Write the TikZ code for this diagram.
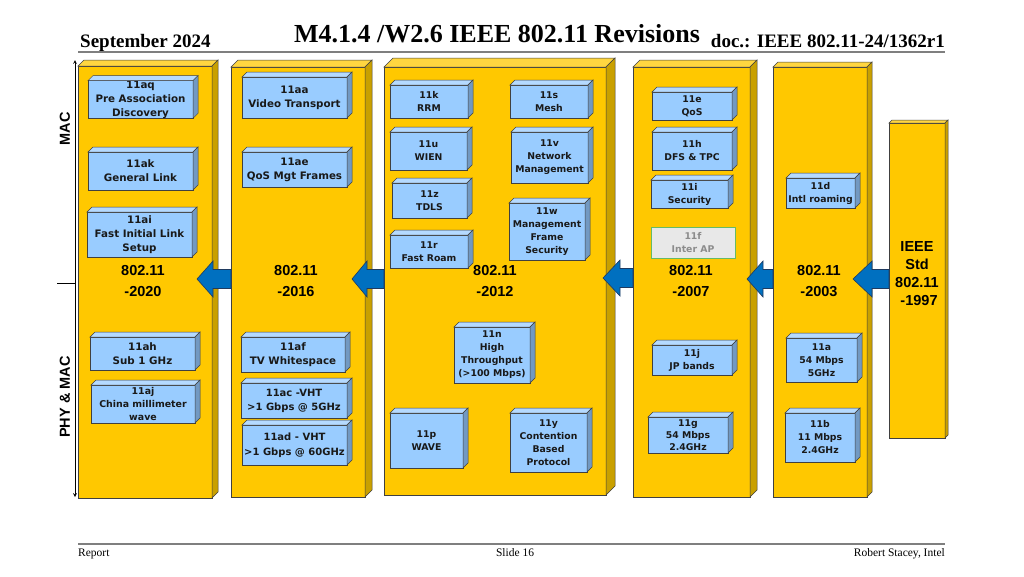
\documentclass[tikz,border=0pt]{standalone}
\usepackage{fontspec}
\setmainfont{Liberation Serif}
\newfontfamily\boxfont{DejaVu Sans}
\newfontfamily\arialfont{Liberation Sans}
\usetikzlibrary{calc}
\definecolor{gold}{HTML}{FFC800}
\definecolor{goldside}{HTML}{C9A000}
\definecolor{goldtop}{HTML}{FFD640}
\definecolor{lblue}{HTML}{99CCFF}
\definecolor{lblueside}{HTML}{7299C2}
\definecolor{lbluetop}{HTML}{B5DAFF}
\definecolor{arrowblue}{HTML}{0070C0}
\definecolor{arrowedge}{HTML}{1F3A5F}
\definecolor{rulegray}{HTML}{7F7F7F}
\definecolor{ffill}{HTML}{E8E8E8}
\definecolor{fedge}{HTML}{66BB66}
\definecolor{ftext}{HTML}{8C8C8C}
\newcommand\bigboxfont{\boxfont\bfseries\fontsize{10.3}{14}\selectfont}
\newcommand\smallboxfont{\boxfont\bfseries\fontsize{9.3}{13}\selectfont}
\newcommand\cubefaces[4]{%
  \draw[face,fill=#3] (#1.north west) -- ++(#2,-#2) -- ($(#1.north east)+(#2,-#2)$) -- (#1.north east) -- cycle;
  \draw[face,fill=#4] (#1.north east) -- ++(#2,-#2) -- ($(#1.south east)+(#2,-#2)$) -- (#1.south east) -- cycle;}
\newcommand\rbox[7][]{%
  \node[bbox,#1,minimum width={#5-#3},minimum height={#6-#4}] (#2) at ({(#3+#5)/2},{(#4+#6)/2}) {#7};
  \cubefaces{#2}{5}{lbluetop}{lblueside}}
\newcommand\colbox[6]{%
  \node[colstyle,minimum width={#4-#2},minimum height={#5-#3}] (#1) at ({(#2+#4)/2},{(#3+#5)/2}) {};
  \cubefaces{#1}{#6}{goldtop}{goldside}}
\newcommand\blockarrow[4]{%
  \draw[barrow] let \p1=($(#1.east)+(#3,-3)$), \p2=(#2.west) in
    (\p1) -- (\x1+#4pt,\y1+18pt) -- (\x1+#4pt,\y1+9.5pt) -- (\x2,\y1+9.5pt)
    -- (\x2,\y1-9.5pt) -- (\x1+#4pt,\y1-9.5pt) -- (\x1+#4pt,\y1-18pt) -- cycle;}
\begin{document}
\begin{tikzpicture}[x=1pt,y=-1pt,
  face/.style={draw=black!75,line width=0.5pt},
  colstyle/.style={draw=black!75,line width=0.6pt,fill=gold,inner sep=0pt,outer sep=0pt},
  bbox/.style={draw=black!75,line width=0.6pt,fill=lblue,inner sep=0pt,outer sep=0pt,align=center,font=\bigboxfont,text=black!90},
  fbox/.style={draw=fedge,line width=0.8pt,fill=ffill,inner sep=0pt,outer sep=0pt,align=center,font=\smallboxfont,text=ftext},
  verlabel/.style={font=\arialfont\bfseries\fontsize{14.5}{21}\selectfont,align=center,inner sep=0pt},
  sidelabel/.style={font=\arialfont\bfseries\fontsize{14.5}{17}\selectfont,rotate=90,inner sep=0pt},
  barrow/.style={draw=arrowedge,line width=0.6pt,fill=arrowblue},
  hdr/.style={font=\bfseries\fontsize{19}{22}\selectfont,inner sep=0pt},
  ftr/.style={font=\fontsize{11.5}{13}\selectfont,inner sep=0pt},
  rulestyle/.style={draw=rulegray,line width=2pt}]
\fill[white] (0,0) rectangle (1024,576);
\useasboundingbox (0,0) rectangle (1024,576);

% header
\node[hdr,anchor=base west] (date) at (80,47) {September 2024};
\node[font=\bfseries\fontsize{26}{30}\selectfont,inner sep=0pt,anchor=base] (title) at (497,42) {M4.1.4 /W2.6 IEEE 802.11 Revisions};
\node[hdr,anchor=base east] (doc) at (945,47) {doc.: IEEE 802.11-24/1362r1};
\coordinate (hl) at (78,52); \coordinate (hr) at (945,52);
\draw[rulestyle] (hl) -- (hr);

% footer
\coordinate (fl) at (78,544); \coordinate (fr) at (945,544);
\draw[rulestyle] (fl) -- (fr);
\node[ftr,anchor=base west] (rep) at (78,556) {Report};
\node[ftr,anchor=base] (slide) at (515,556) {Slide 16};
\node[ftr,anchor=base east] (auth) at (945,556) {Robert Stacey, Intel};

% left axis
\coordinate (axtop) at (75,60); \coordinate (axbot) at (75,497);
\coordinate (tickl) at (57,283); \coordinate (tickr) at (76,283);
\draw[line width=0.7pt,<->,>=stealth] (axtop) -- (axbot);
\draw[line width=0.7pt] (tickl) -- (tickr);
\node[sidelabel] (mac) at (65,129) {MAC};
\node[sidelabel] (phymac) at (65,397) {PHY \& MAC};

% columns
\colbox{c1}{78}{66}{212}{498}{6}
\colbox{c2}{231}{67}{365}{497}{7}
\colbox{c3}{384}{67}{606}{495}{9}
\colbox{c4}{633}{67}{750}{497}{7}
\colbox{c5}{773}{67}{867}{497}{5}
\colbox{c6}{889}{123}{945}{438}{3}

% version labels
\node[verlabel] (v1) at (143,281) {802.11\\-2020};
\node[verlabel] (v2) at (296,281) {802.11\\-2016};
\node[verlabel] (v3) at (495,281) {802.11\\-2012};
\node[verlabel] (v4) at (691,281) {802.11\\-2007};
\node[verlabel] (v5) at (819,281) {802.11\\-2003};
\node[verlabel,font=\arialfont\bfseries\fontsize{14.5}{18}\selectfont] (v6) at (917,274) {IEEE\\Std\\802.11\\\ -1997};

% column 1
\rbox{aq}{88}{82}{193}{117}{11aq\\Pre Association\\Discovery}
\rbox{ak}{88}{152}{193}{190}{11ak\\General Link}
\rbox{ai}{87}{212}{192}{257}{11ai\\Fast Initial Link\\Setup}
\rbox{ah}{90}{337}{195}{370}{11ah\\Sub 1 GHz}
\rbox[font=\boxfont\bfseries\fontsize{9.4}{13}\selectfont]{aj}{91}{385}{195}{423}{11aj\\China millimeter\\wave}

% column 2
\rbox{aa}{242}{77}{347}{118}{11aa\\Video Transport}
\rbox{ae}{242}{152}{347}{187}{11ae\\QoS Mgt Frames}
\rbox{af}{241}{337}{345}{372}{11af\\TV Whitespace}
\rbox[font=\boxfont\bfseries\fontsize{10}{14}\selectfont]{ac}{241}{383}{347}{418}{11ac -VHT\\>1 Gbps @ 5GHz}
\rbox[font=\boxfont\bfseries\fontsize{10}{15}\selectfont]{ad}{242}{425}{347}{465}{11ad - VHT\\>1 Gbps @ 60GHz}

% column 3
\begin{scope}[bbox/.append style={font=\smallboxfont}]
\rbox{k}{390}{85}{468}{118}{11k\\RRM}
\rbox{s}{510}{85}{588}{118}{11s\\Mesh}
\rbox{u}{390}{132}{467}{170}{11u\\WIEN}
\rbox{v}{511}{132}{588}{183}{11v\\Network\\Management}
\rbox{z}{392}{183}{467}{218}{11z\\TDLS}
\rbox{w}{509}{203}{585}{260}{11w\\Management\\Frame\\Security}
\rbox{r}{390}{235}{468}{268}{11r\\Fast Roam}
\rbox{n}{454}{327}{530}{383}{11n\\High\\Throughput\\(>100 Mbps)}
\rbox{p}{390}{413}{463}{468}{11p\\WAVE}
\rbox{y}{510}{413}{587}{472}{11y\\Contention\\Based\\Protocol}

% column 4
\rbox{e}{652}{92}{732}{120}{11e\\QoS}
\rbox{h}{652}{132}{732}{170}{11h\\DFS \& TPC}
\rbox{i}{651}{180}{728}{208}{11i\\Security}
\node[fbox,minimum width=84,minimum height=31] (f) at (693,242.5) {11f\\Inter AP};
\rbox{j}{652}{345}{732}{375}{11j\\JP bands}
\rbox[font=\boxfont\bfseries\fontsize{9.3}{12}\selectfont]{g}{648}{417}{728}{453}{11g\\54 Mbps\\2.4GHz}

% column 5
\rbox{d}{786}{178}{855}{208}{11d\\Intl roaming}
\rbox{a}{786}{338}{857}{382}{11a\\54 Mbps\\5GHz}
\rbox{b}{785}{413}{855}{462}{11b\\11 Mbps\\2.4GHz}
\end{scope}

% arrows
\blockarrow{c1}{c2}{-15}{16}
\blockarrow{c2}{c3}{-13}{15}
\blockarrow{c3}{c4}{-3}{17}
\blockarrow{c4}{c5}{-3}{16}
\blockarrow{c5}{c6}{-14}{19}
\end{tikzpicture}
\end{document}
